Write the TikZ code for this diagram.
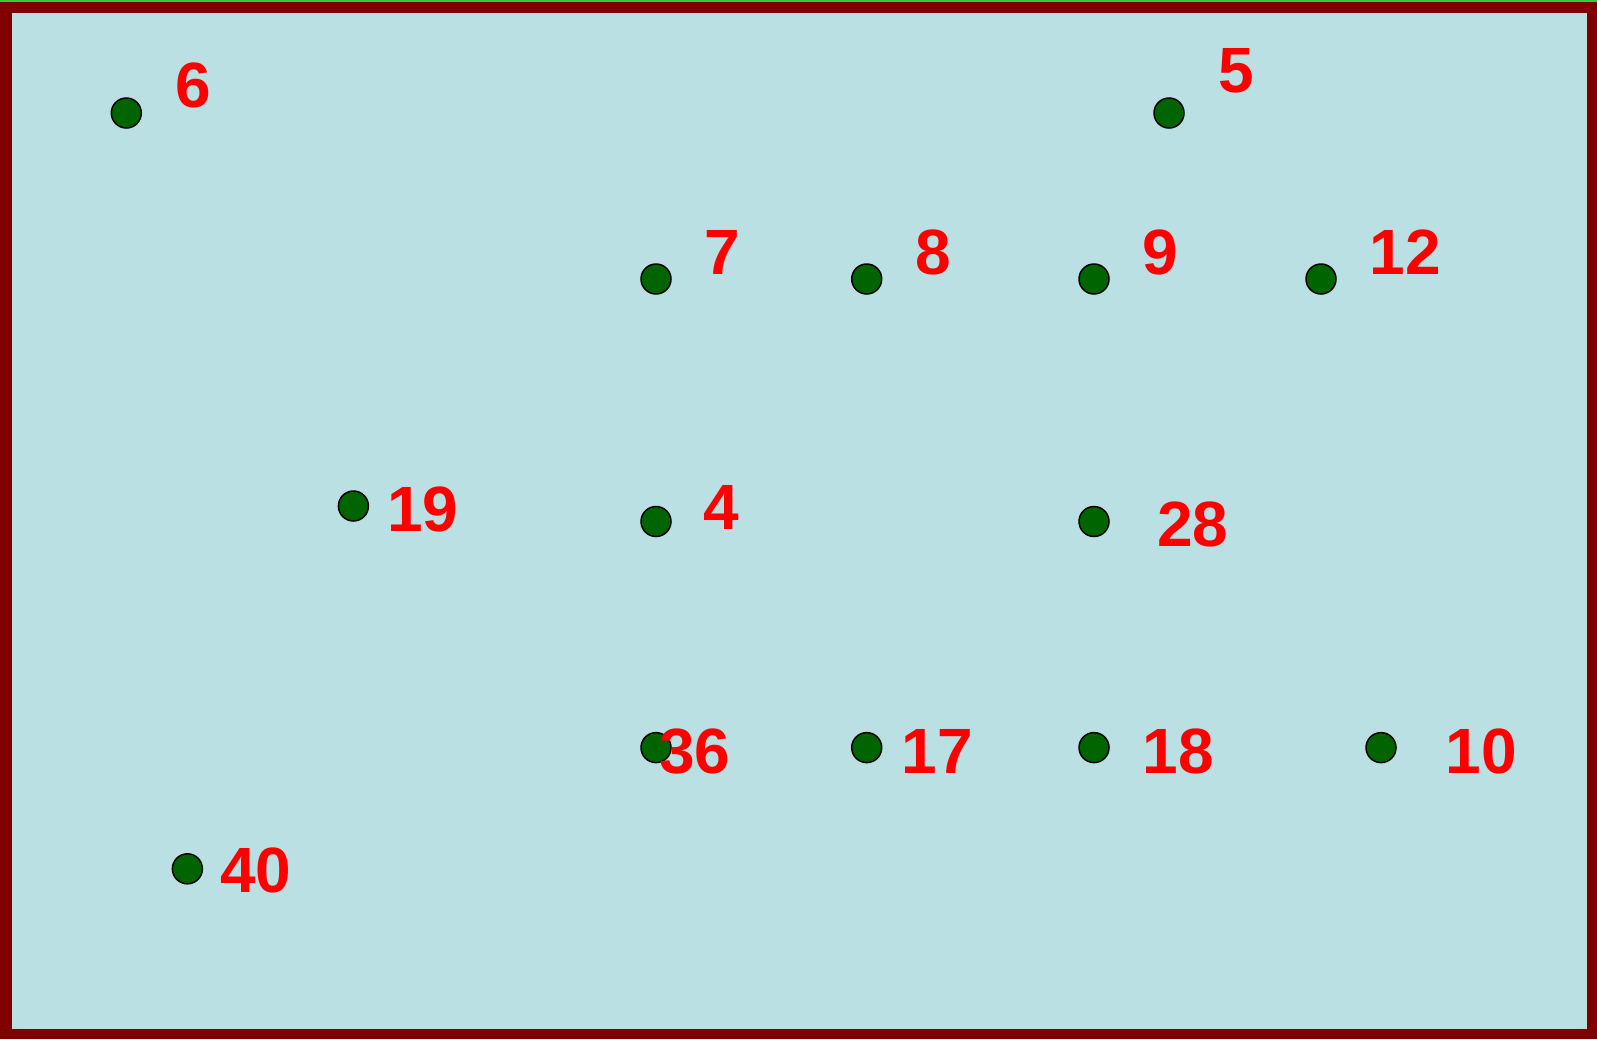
\documentclass[tikz,border=0pt]{standalone}
\usepackage{fontspec}
\setmainfont{Liberation Sans}
\definecolor{bgblue}{HTML}{BBE0E3}
\definecolor{frame}{HTML}{800000}
\definecolor{dotgreen}{HTML}{006400}
\definecolor{topgreen}{HTML}{33CC33}
\begin{document}
\begin{tikzpicture}[x=1pt,y=-1pt,
  dotnode/.style={circle,draw=black,line width=1.5pt,fill=dotgreen,minimum size=30pt,inner sep=0pt},
  lbl/.style={text=red,font=\fontsize{64}{64}\selectfont\bfseries,inner sep=0pt}]
\useasboundingbox (0,0) rectangle (1597,1039);
\fill[frame] (0,0) rectangle (1597,1039);
\fill[topgreen] (0,0) rectangle (1597,1.5);
\fill[bgblue] (12,13) rectangle (1587,1029);
% dots
\node[dotnode] (d6) at (126.3,113) {};
\node[dotnode] (d5) at (1169,113) {};
\node[dotnode] (d7) at (656,279) {};
\node[dotnode] (d8) at (866.7,279) {};
\node[dotnode] (d9) at (1094,279) {};
\node[dotnode] (d12) at (1321,279) {};
\node[dotnode] (d19) at (353.4,506) {};
\node[dotnode] (d4) at (656,521.5) {};
\node[dotnode] (d28) at (1094,521.5) {};
\node[dotnode] (d36) at (656,747.6) {};
\node[dotnode] (d17) at (866.7,747.6) {};
\node[dotnode] (d18) at (1094,747.6) {};
\node[dotnode] (d10) at (1381,747.6) {};
\node[dotnode] (d40) at (187.4,868.8) {};
% labels
\node[lbl] (l6) at (193.5,85) {6};
\node[lbl] (l5) at (1236.5,71) {5};
\node[lbl] (l7) at (722,252.6) {7};
\node[lbl] (l8) at (933,252.6) {8};
\node[lbl] (l9) at (1160,252.6) {9};
\node[lbl] (l12) at (1405.5,252.6) {12};
\node[lbl] (l19) at (422.7,509) {19};
\node[lbl] (l4) at (721,507) {4};
\node[lbl] (l28) at (1192.7,524.5) {28};
\node[lbl] (l36) at (694.6,751.6) {36};
\node[lbl] (l17) at (937,751.6) {17};
\node[lbl] (l18) at (1178,751.6) {18};
\node[lbl] (l10) at (1481,751.6) {10};
\node[lbl] (l40) at (255.6,870.8) {40};
\end{tikzpicture}
\end{document}
